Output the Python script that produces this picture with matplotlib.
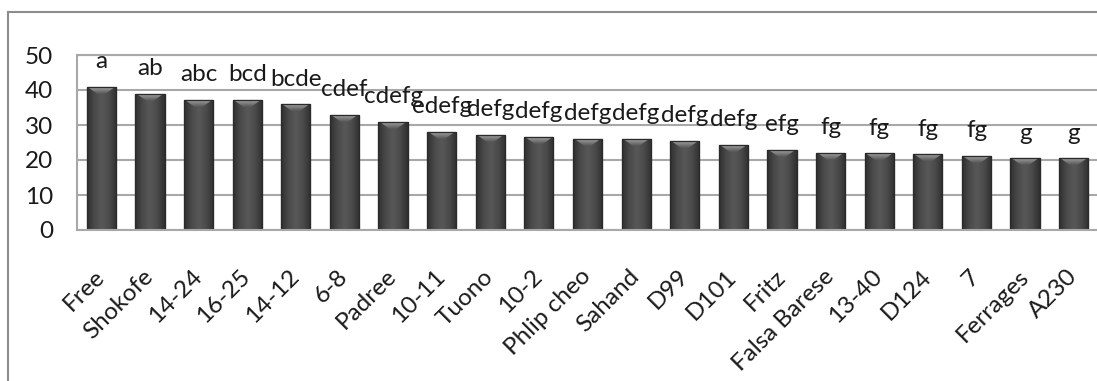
import matplotlib
matplotlib.use("Agg")
import matplotlib.pyplot as plt
import numpy as np
from matplotlib.colors import LinearSegmentedColormap
from matplotlib.patches import Polygon
from matplotlib.lines import Line2D
from matplotlib.transforms import ScaledTranslation

genotypes = ["Free", "Shokofe", "14-24", "16-25", "14-12", "6-8", "Padree", "10-11",
             "Tuono", "10-2", "Phlip cheo", "Sahand", "D99", "D101", "Fritz",
             "Falsa Barese", "13-40", "D124", "7", "Ferrages", "A230"]
values = [40.8, 38.9, 37.1, 37.1, 35.9, 32.9, 30.9, 28.1, 27.2, 26.5, 26.1,
          26.1, 25.4, 24.3, 22.9, 22.1, 21.9, 21.6, 21.1, 20.5, 20.5]
letters = ["a", "ab", "abc", "bcd", "bcde", "cdef", "cdefg", "edefg", "defg", "defg",
           "defg", "defg", "defg", "defg", "efg", "fg", "fg", "fg", "fg", "g", "g"]
yticks = [0, 10, 20, 30, 40, 50]

plt.rcParams['font.family'] = ['Lato', 'DejaVu Sans']

W, H = 1097, 381
fig = plt.figure(figsize=(W / 100, H / 100), dpi=100)
ax = fig.add_axes([77 / W, 1 - 230 / H, 1021 / W, 175 / H])

x = np.arange(len(genotypes))
bars = ax.bar(x, values, width=0.6, color="#474747", edgecolor="#2a2a2a",
              linewidth=0.8, zorder=2)

body_cmap = LinearSegmentedColormap.from_list(
    "body", ["#2f2f2f", "#4a4a4a", "#585858", "#4a4a4a", "#2f2f2f"])
bevel_cmap = LinearSegmentedColormap.from_list("bevel", ["#555555", "#a0a0a0"])
grad_h = np.linspace(0, 1, 64).reshape(1, -1)
grad_v = np.linspace(0, 1, 32).reshape(-1, 1)

for b in bars:
    x0, w, h = b.get_x(), b.get_width(), b.get_height()
    im = ax.imshow(grad_h, cmap=body_cmap, extent=(x0, x0 + w, 0, h),
                   aspect="auto", origin="lower", zorder=2.1, interpolation="bicubic")
    im.set_clip_path(b)
    d = 2.0
    xc = x0 + w / 2
    poly = Polygon([(x0 + w * 0.04, h), (x0 + w * 0.96, h),
                    (xc + w * 0.12, h - d), (xc - w * 0.12, h - d)],
                   closed=True, transform=ax.transData, facecolor="none",
                   edgecolor="none")
    ax.add_patch(poly)
    imb = ax.imshow(grad_v, cmap=bevel_cmap, extent=(x0, x0 + w, h - d, h),
                    aspect="auto", origin="lower", zorder=2.2, interpolation="bicubic")
    imb.set_clip_path(poly)
    ax.bar([b.get_x() + w / 2], [h], width=w, facecolor="none",
           edgecolor="#2a2a2a", linewidth=0.9, zorder=2.3)

for xi, v, t in zip(x, values, letters):
    ax.annotate(t, (xi, v), xytext=(0, 13.5), textcoords="offset points",
                ha="center", va="baseline", fontsize=17.5, color="#1a1a1a",
                zorder=3)

ax.set_xlim(-0.5, len(genotypes) - 0.5)
ax.set_ylim(0, 50)
ax.set_yticks(yticks)
ax.set_yticklabels([str(t) for t in yticks])
ax.set_xticks(x)
ax.set_xticklabels(genotypes, rotation=45, ha="right", va="center",
                   rotation_mode="anchor")
offset = ScaledTranslation(6 / 72, 0, fig.dpi_scale_trans)
for lbl in ax.get_xticklabels():
    lbl.set_transform(lbl.get_transform() + offset)

ax.tick_params(axis="x", length=0, pad=31, labelsize=17.5, colors="#1a1a1a")
ax.tick_params(axis="y", length=0, pad=17, labelsize=17.5, colors="#1a1a1a")

ax.set_axisbelow(True)
ax.yaxis.grid(True, color="#a8a8a8", linewidth=1.5)
ax.spines["right"].set_visible(False)
for s in ["left", "bottom", "top"]:
    ax.spines[s].set_color("#a8a8a8")
    ax.spines[s].set_linewidth(1.5)

# outer chart frame
fig.add_artist(Line2D([8 / W, 8 / W], [0, 1 - 12 / H], transform=fig.transFigure,
                      color="#8c8c8c", linewidth=1.5))
fig.add_artist(Line2D([8 / W, 1], [1 - 12 / H, 1 - 12 / H], transform=fig.transFigure,
                      color="#8c8c8c", linewidth=1.5))

fig.savefig("out.png", dpi=100)
